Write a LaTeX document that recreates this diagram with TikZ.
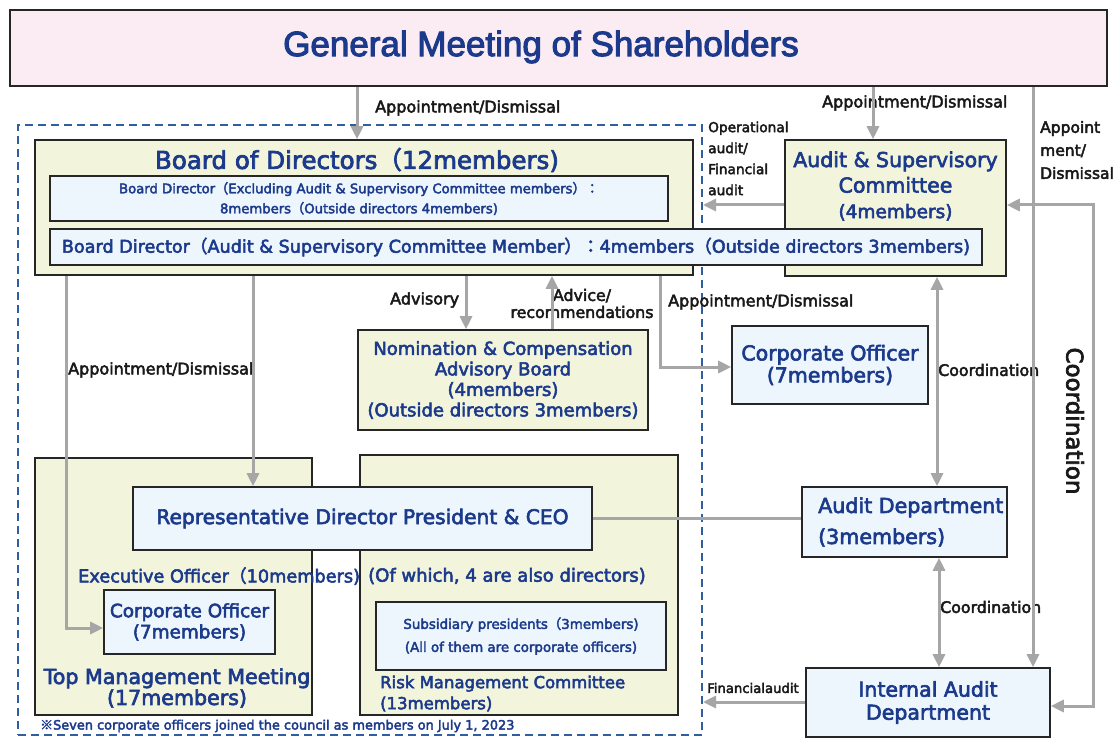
\documentclass[tikz,border=0pt]{standalone}
\usepackage{fontspec}
\setmainfont{DejaVu Sans}[FakeBold=3]
\newfontfamily\titlefont{Liberation Sans}[FakeBold=3]
\newfontfamily\cjk{Noto Sans CJK JP}[FakeBold=3]
\usetikzlibrary{arrows.meta}
\definecolor{tblue}{RGB}{28,58,140}
\definecolor{dblue}{RGB}{47,95,160}
\definecolor{ybg}{RGB}{242,245,220}
\definecolor{bbg}{RGB}{237,246,253}
\definecolor{pbg}{RGB}{251,236,243}
\definecolor{agray}{RGB}{166,166,166}
\newcommand\flp{{\cjk （}}
\newcommand\frp{{\cjk ）}}
\newcommand\fcol{{\cjk ：}}
\newcommand\fz[2]{\fontsize{#1}{#2}\selectfont}
\begin{document}
\begin{tikzpicture}[x=1pt,y=-1pt,
 box/.style={draw=black!85, line width=1.6pt, inner sep=0pt, align=center, text=tblue},
 ybox/.style={box, fill=ybg},
 bbox/.style={box, fill=bbg},
 conn/.style={draw=agray, line width=3pt},
 arr/.style={conn, -{Triangle[length=13pt,width=12pt]}},
 arrb/.style={conn, {Triangle[length=13pt,width=12pt]}-{Triangle[length=13pt,width=12pt]}},
 lbl/.style={inner sep=0pt, text=black!90, font=\fz{16}{19}},
 txt/.style={inner sep=0pt, text=tblue, align=center},
]
\useasboundingbox (0,0) rectangle (1117,738);
\fill[white] (0,0) rectangle (1117,738);

% helper coordinates
\coordinate (xgma) at (357,0);
\coordinate (xgmb) at (873,0);
\coordinate (xgmc) at (1033,0);
\coordinate (xadv) at (466,0);
\coordinate (xrec) at (552,0);
\coordinate (xapp) at (660,0);
\coordinate (xcoa) at (937,0);
\coordinate (xcob) at (939,0);
\coordinate (xleft) at (66,0);
\coordinate (xceo) at (253,0);
\coordinate (xright) at (1093,0);
\coordinate (yasc) at (0,205);
\coordinate (yiad) at (0,706);
\coordinate (yfin) at (0,702);
\coordinate (ycor) at (0,367);
\coordinate (ycol) at (0,628);

% General meeting
\node[box, fill=pbg, minimum width=1097pt, minimum height=76pt] (gm) at (558.5,48) {};
\node[txt, font=\titlefont\fz{35}{40}] (gmt) at (541,47) {General Meeting of Shareholders};

% dashed executive area
\node[draw=dblue, line width=2pt, dash pattern=on 8pt off 5pt, minimum width=684pt, minimum height=610pt, inner sep=0pt] (exec) at (360,430) {};

% Board of directors
\node[ybox, minimum width=658pt, minimum height=135pt] (bod) at (364,207.5) {};
\node[txt, font=\fz{24.5}{28}] (bodt) at (357,160) {Board of Directors\flp 12members)};
\node[bbox, minimum width=618pt, minimum height=45pt, font=\fz{13.2}{20}] (bda) at (359,198.5) {Board Director\flp Excluding Audit \& Supervisory Committee members\frp\fcol\\ 8members\flp Outside directors 4members)};

% Audit & supervisory committee
\node[ybox, minimum width=221pt, minimum height=136pt] (asc) at (895.5,208) {};
\node[txt, font=\fz{20.5}{25.5}] (asct) at (895.5,186) {Audit \& Supervisory\\Committee\\{\fz{18.5}{25.5}(4members)}};

\node[bbox, minimum width=932pt, minimum height=36pt, font=\fz{17.6}{21}] (bdb) at (516,247) {Board Director\flp Audit \& Supervisory Committee Member\frp\fcol 4members\flp Outside directors 3members)};

% Nomination
\node[ybox, minimum width=290pt, minimum height=100pt, font=\fz{18}{20.5}] (nom) at (503,380) {Nomination \& Compensation\\Advisory Board\\(4members)\\(Outside directors 3members)};

% Corporate officer right
\node[bbox, minimum width=196pt, minimum height=78pt, font=\fz{20.5}{22}] (cor) at (830,365) {Corporate Officer\\(7members)};

% Audit department
\node[bbox, minimum width=205pt, minimum height=70pt] (ad) at (904.5,522) {};
\node[txt, anchor=west, align=left, font=\fz{20.6}{31}] (adt) at (818,522) {Audit Department\\(3members)};

% Internal audit
\node[bbox, minimum width=244pt, minimum height=69pt, font=\fz{20.5}{23}] (iad) at (928,702.5) {Internal Audit\\Department};

% Lower left groups
\node[ybox, minimum width=277pt, minimum height=257pt] (tmm) at (173.5,586.5) {};
\node[ybox, minimum width=318pt, minimum height=260pt] (rmc) at (519,585) {};
\node[bbox, minimum width=459pt, minimum height=63pt, font=\fz{20.2}{23}] (ceo) at (362.5,518.5) {Representative Director President \& CEO};
\node[txt, anchor=west, font=\fz{17.7}{21}] (exo) at (78,576) {Executive Officer\flp 10members)};
\node[txt, anchor=west, font=\fz{18}{21}] (exd) at (368,576) {(Of which, 4 are also directors)};
\node[bbox, minimum width=171pt, minimum height=64pt, font=\fz{18.4}{21}] (col) at (189.5,622) {Corporate Officer\\(7members)};
\node[txt, font=\fz{20.6}{21}] (tmmt) at (177,688) {Top Management Meeting\\(17members)};
\node[bbox, minimum width=290pt, minimum height=68pt, font=\fz{13.4}{23}] (sub) at (521,636) {Subsidiary presidents\flp 3members)\\(All of them are corporate officers)};
\node[txt, anchor=west, align=left, font=\fz{16.5}{21}] (rmct) at (380,693.5) {Risk Management Committee\\(13members)};
\node[txt, anchor=west, font=\fz{12.9}{14}] (note) at (40,726) {{\cjk ※}Seven corporate officers joined the council as members on July 1, 2023};

% labels
\node[lbl, anchor=west] (la) at (375,108) {Appointment/Dismissal};
\node[lbl, anchor=west] (lb) at (822,103) {Appointment/Dismissal};
\node[lbl, anchor=west, align=left, font=\fz{15.5}{23}] (lc) at (1040,150) {Appoint\\ment/\\Dismissal};
\node[lbl, anchor=west, align=left, font=\fz{13.7}{21}] (ld) at (708,158.5) {Operational\\audit/\\Financial\\audit};
\node[lbl, anchor=west] (le) at (390,300) {Advisory};
\node[lbl, align=center, font=\fz{15.8}{17}] (lf) at (582,303.5) {Advice/\\recommendations};
\node[lbl, anchor=west] (lg) at (668,302) {Appointment/Dismissal};
\node[lbl, anchor=west, font=\fz{15.8}{19}] (lh) at (938,370) {Coordination};
\node[lbl, anchor=west, font=\fz{15.8}{19}] (li) at (940,607) {Coordination};
\node[lbl, anchor=west, font=\fz{13.2}{15}] (lj) at (707,688) {Financialaudit};
\node[lbl, anchor=west] (lk) at (68,370) {Appointment/Dismissal};
\node[lbl, rotate=-90, font=\fz{23}{25}] (ll) at (1075,421) {Coordination};

% connectors
\draw[arr] (gm.south -| xgma) -- (bod.north -| xgma);
\draw[arr] (gm.south -| xgmb) -- (asc.north -| xgmb);
\draw[arr] (gm.south -| xgmc) -- (iad.north -| xgmc);
\draw[arrb] (asc.east |- yasc) -- (xright |- yasc) -- (xright |- yiad) -- (iad.east |- yiad);
\draw[arr] (asc.west |- yasc) -- (exec.east |- yasc);
\draw[arr] (bod.south -| xadv) -- (nom.north -| xadv);
\draw[arr] (nom.north -| xrec) -- (bod.south -| xrec);
\draw[arr] (bod.south -| xapp) |- (cor.west |- ycor);
\draw[arrb] (asc.south -| xcoa) -- (ad.north -| xcoa);
\draw[conn] (ceo.east) -- (ad.west |- ceo.east);
\draw[arrb] (ad.south -| xcob) -- (iad.north -| xcob);
\draw[arr] (iad.west |- yfin) -- (exec.east |- yfin);
\draw[arr] (bod.south -| xleft) |- (col.west |- ycol);
\draw[arr] (bod.south -| xceo) -- (ceo.north -| xceo);
\end{tikzpicture}
\end{document}
